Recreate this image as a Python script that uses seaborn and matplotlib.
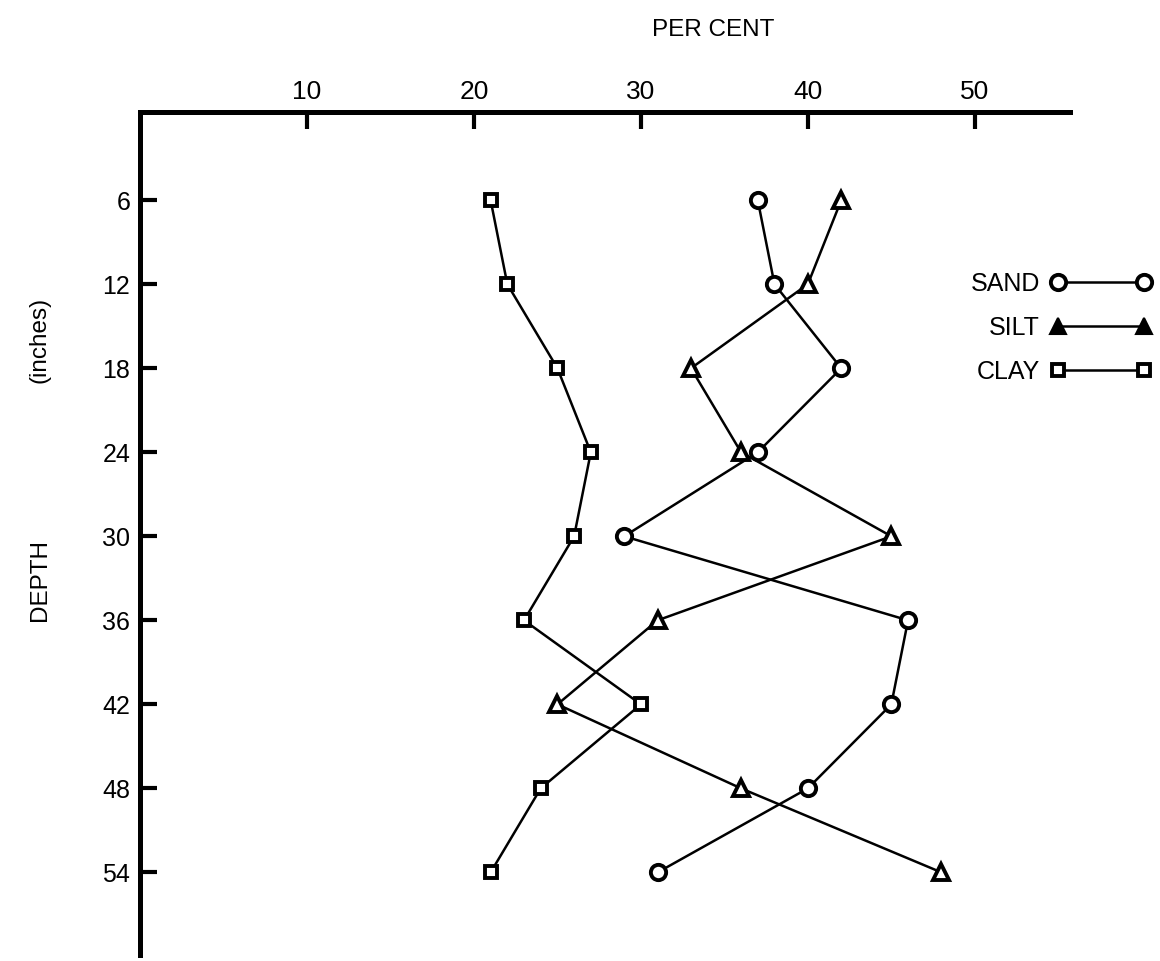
import pandas as pd
import matplotlib
matplotlib.use('Agg')
import matplotlib.pyplot as plt
from matplotlib.lines import Line2D
import seaborn as sns

# depth below surface (inches) and per cent of each fraction
depth = [6, 12, 18, 24, 30, 36, 42, 48, 54]
sand = [37, 38, 42, 37, 29, 46, 45, 40, 31]
silt = [42, 40, 33, 36, 45, 31, 25, 36, 48]
clay = [21, 22, 25, 27, 26, 23, 30, 24, 21]
x_ticks = [10, 20, 30, 40, 50]

df = pd.concat([
    pd.DataFrame({'depth': depth, 'percent': sand, 'soil': 'SAND'}),
    pd.DataFrame({'depth': depth, 'percent': silt, 'soil': 'SILT'}),
    pd.DataFrame({'depth': depth, 'percent': clay, 'soil': 'CLAY'}),
])

sns.set_style('white')
plt.rcParams['font.family'] = ['Liberation Sans', 'DejaVu Sans']
plt.rcParams['text.color'] = 'black'
plt.rcParams['xtick.color'] = 'black'
plt.rcParams['ytick.color'] = 'black'
plt.rcParams['axes.labelcolor'] = 'black'

fig = plt.figure(figsize=(11.6, 9.61), dpi=100)
ax = fig.add_axes([0.1207, 0.0062, 0.8017, 0.8773])

markers = {'SAND': 'o', 'SILT': '^', 'CLAY': 's'}
sizes = {'SAND': 11, 'SILT': 11, 'CLAY': 8.5}
for soil in ['SAND', 'SILT', 'CLAY']:
    sub = df[df['soil'] == soil]
    sns.lineplot(data=sub, x='percent', y='depth', estimator=None, sort=False,
                 color='black', linewidth=1.8, marker=markers[soil],
                 markersize=sizes[soil], markerfacecolor='white',
                 markeredgecolor='black', markeredgewidth=2.8, ax=ax)

ax.set_xlim(0, 55.7)
ax.set_ylim(59.9, -0.3)
ax.set_xticks(x_ticks)
ax.set_yticks(depth)
ax.xaxis.tick_top()
ax.set_xlabel('')
ax.set_ylabel('')
ax.tick_params(axis='x', direction='in', length=12, width=3, pad=6,
               labelsize=19, top=True, bottom=False)
ax.tick_params(axis='y', direction='in', length=12, width=3, pad=7,
               labelsize=18, left=True)
for s in ['right', 'bottom']:
    ax.spines[s].set_visible(False)
for s in ['top', 'left']:
    ax.spines[s].set_linewidth(3.6)
    ax.spines[s].set_color('black')

fig.text(713 / 1160, 1 - 30 / 961, 'PER CENT', ha='center', va='center', fontsize=17.5)
fig.text(40 / 1160, 1 - 580 / 961, 'DEPTH', rotation=90, ha='center', va='center', fontsize=17.5)
fig.text(40 / 1160, 1 - 340 / 961, '(inches)', rotation=90, ha='center', va='center', fontsize=17.5)

handles = [
    Line2D([0], [0], color='black', lw=1.8, marker='o', ms=11, mfc='white', mec='black', mew=2.8),
    Line2D([0], [0], color='black', lw=1.8, marker='^', ms=11, mfc='black', mec='black', mew=1.5),
    Line2D([0], [0], color='black', lw=1.8, marker='s', ms=8.5, mfc='white', mec='black', mew=2.8),
]
fig.legend(handles, ['SAND', 'SILT', 'CLAY'], loc='upper right',
           bbox_to_anchor=(1151 / 1160, 1 - 272 / 961), frameon=False,
           markerfirst=False, numpoints=2, handlelength=4.04, fontsize=18,
           labelspacing=0.8, handletextpad=0.4, borderpad=0, borderaxespad=0)

fig.savefig('out.png', dpi=100)
